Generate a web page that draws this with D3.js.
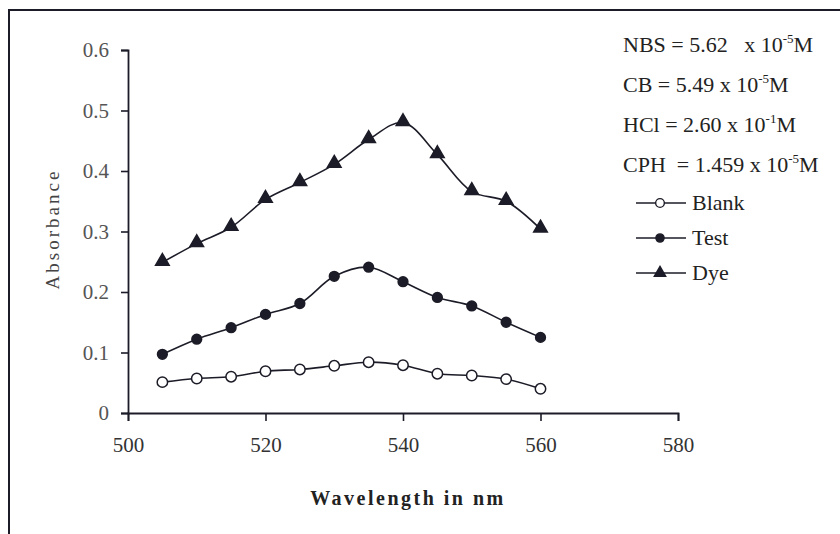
<!DOCTYPE html>
<html>
<head>
<meta charset="utf-8">
<script src="https://cdn.jsdelivr.net/npm/d3@7"></script>
<style>
  html, body { margin: 0; padding: 0; background: #fff; }
  svg text { font-family: "Liberation Serif", "Times New Roman", serif; white-space: pre; }
</style>
</head>
<body>
<svg id="chart" width="840" height="534"></svg>
<script>
const wavelengths = [505, 510, 515, 520, 525, 530, 535, 540, 545, 550, 555, 560];
const blank = [0.051, 0.057, 0.060, 0.069, 0.072, 0.078, 0.084, 0.079, 0.065, 0.062, 0.056, 0.040];
const test  = [0.097, 0.122, 0.141, 0.163, 0.181, 0.226, 0.241, 0.217, 0.191, 0.177, 0.150, 0.125];
const dye   = [0.249, 0.280, 0.307, 0.353, 0.381, 0.411, 0.452, 0.480, 0.427, 0.366, 0.350, 0.304];
const xTicks = [500, 520, 540, 560, 580];
const yTicks = [0, 0.1, 0.2, 0.3, 0.4, 0.5, 0.6];
const seriesNames = ["Blank", "Test", "Dye"];
const annotations = [
  {pre: "NBS = 5.62   x 10", sup: "-5", post: "M"},
  {pre: "CB = 5.49 x 10", sup: "-5", post: "M"},
  {pre: "HCl = 2.60 x 10", sup: "-1", post: "M"},
  {pre: "CPH  = 1.459 x 10", sup: "-5", post: "M"}
];

const ink = "#1c1c28";
const svg = d3.select("#chart");

// outer frame
svg.append("rect").attr("x", 9).attr("y", 10).attr("width", 900).attr("height", 600)
  .attr("fill", "none").attr("stroke", ink).attr("stroke-width", 2);

const x = d3.scaleLinear().domain([500, 580]).range([128, 678]);
const y = d3.scaleLinear().domain([0, 0.6]).range([413, 50]);

// y axis
const yAxis = svg.append("g").attr("transform", `translate(${x(500)},0)`)
  .call(d3.axisLeft(y).tickValues(yTicks).tickSize(7).tickPadding(12)
    .tickFormat(d => d === 0 ? "0" : d3.format(".1f")(d)));
yAxis.select(".domain").attr("stroke", ink).attr("stroke-width", 1.8);
yAxis.selectAll(".tick line").attr("stroke", ink).attr("stroke-width", 1.6);
yAxis.selectAll(".tick text").attr("font-size", 21).attr("fill", "#555")
  .attr("font-family", "Liberation Serif").attr("dy", "0.32em");

// x axis
const xAxis = svg.append("g").attr("transform", `translate(0,${y(0)})`)
  .call(d3.axisBottom(x).tickValues(xTicks).tickSize(8).tickPadding(16).tickFormat(d3.format("d")));
xAxis.select(".domain").attr("stroke", ink).attr("stroke-width", 1.8);
xAxis.selectAll(".tick line").attr("stroke", ink).attr("stroke-width", 1.6);
xAxis.selectAll(".tick text").attr("font-size", 21).attr("fill", "#333")
  .attr("font-family", "Liberation Serif");

// axis titles
svg.append("text").attr("transform", `translate(59,229) rotate(-90)`)
  .attr("text-anchor", "middle").attr("font-size", 19).attr("letter-spacing", 3)
  .attr("fill", "#444").text("Absorbance");
svg.append("text").attr("x", 408).attr("y", 505).attr("text-anchor", "middle")
  .attr("font-size", 20).attr("font-weight", "bold").attr("letter-spacing", 2.5)
  .attr("fill", "#222").text("Wavelength in nm");

// series
const data = [blank, test, dye];
const line = d3.line().x((d, i) => x(wavelengths[i])).y(d => y(d)).curve(d3.curveCatmullRom.alpha(0.5));
const symbols = [d3.symbolCircle, d3.symbolCircle, d3.symbolTriangle];
const fills = ["#fff", ink, ink];
const sizes = [85, 75, 80];

data.forEach((vals, s) => {
  svg.append("path").datum(vals).attr("d", line)
    .attr("fill", "none").attr("stroke", ink).attr("stroke-width", 1.6);
  svg.append("g").selectAll("path").data(vals).join("path")
    .attr("d", d3.symbol().type(symbols[s]).size(sizes[s]))
    .attr("transform", (d, i) => `translate(${x(wavelengths[i])},${y(d) + (s === 2 ? -1 : 0)})`)
    .attr("fill", fills[s]).attr("stroke", ink).attr("stroke-width", 1.5);
});

// annotations
annotations.forEach((a, i) => {
  const t = svg.append("text").attr("x", 623).attr("y", 52 + i * 40)
    .attr("font-size", 22).attr("fill", "#222");
  t.append("tspan").text(a.pre);
  t.append("tspan").attr("font-size", 13).attr("dy", -9).text(a.sup);
  t.append("tspan").attr("dy", 9).text(a.post);
});

// legend
seriesNames.forEach((name, s) => {
  const ly = 203 + s * 35;
  const g = svg.append("g");
  g.append("line").attr("x1", 636).attr("x2", 686).attr("y1", ly).attr("y2", ly)
    .attr("stroke", ink).attr("stroke-width", 1.6);
  g.append("path").attr("d", d3.symbol().type(symbols[s]).size(sizes[s] * 0.7))
    .attr("transform", `translate(660,${ly})`)
    .attr("fill", fills[s]).attr("stroke", ink).attr("stroke-width", 1.4);
  g.append("text").attr("x", 692).attr("y", ly + 7).attr("font-size", 22)
    .attr("fill", "#222").text(name);
});
</script>
</body>
</html>
